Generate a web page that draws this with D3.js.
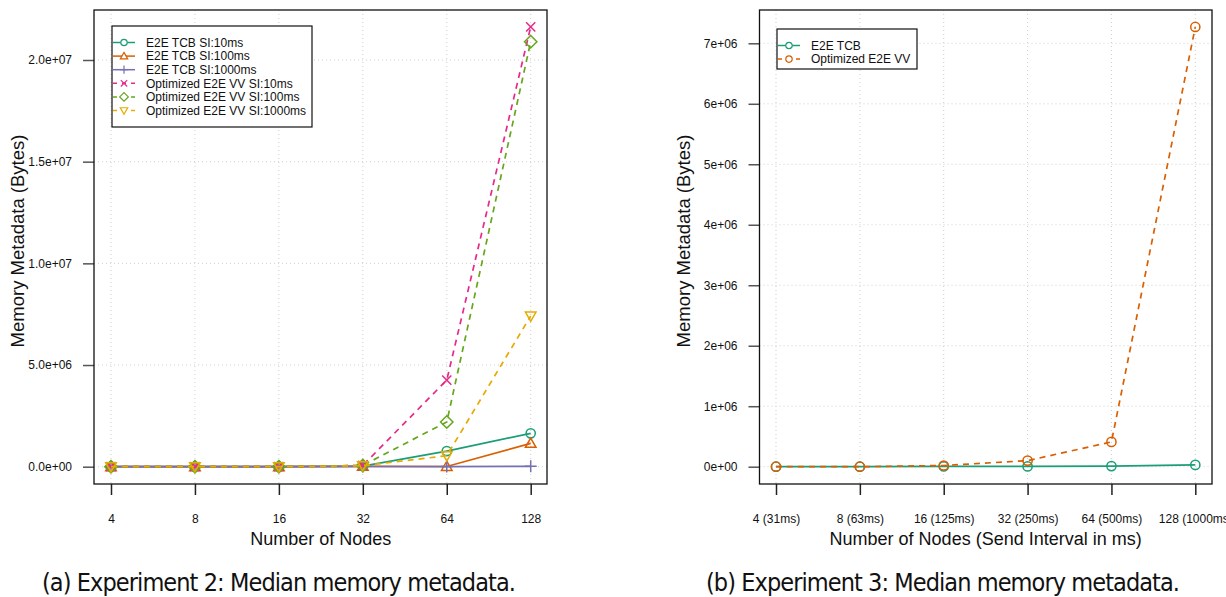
<!DOCTYPE html>
<html>
<head>
<meta charset="utf-8">
<script src="https://cdn.jsdelivr.net/npm/d3@7"></script>
<style>
  body { margin: 0; background: #fff; }
  svg { display: block; font-family: "Liberation Sans", Arial, Helvetica, sans-serif; }
</style>
</head>
<body>
<div id="chart"></div>
<script>
// ---- data ----
const nodes = [4, 8, 16, 32, 64, 128];
const nodeLabelsB = ["4 (31ms)", "8 (63ms)", "16 (125ms)", "32 (250ms)", "64 (500ms)", "128 (1000ms)"];

const tcb10   = [0, 0, 0, 30000, 770000, 1640000];
const tcb100  = [0, 0, 0, 20000, 10000, 1150000];
const tcb1000 = [0, 0, 0, 10000, 5000, 20000];
const vv10    = [0, 0, 0, 60000, 4260000, 21630000];
const vv100   = [0, 0, 0, 60000, 2200000, 20900000];
const vv1000  = [0, 0, 0, 50000, 540000, 7410000];

const tcbB = [0, 0, 5000, 5000, 10000, 30000];
const vvB  = [0, 0, 20000, 100000, 410000, 7270000];

const ticksA = [0, 5e6, 1e7, 1.5e7, 2e7];
const ticksB = [0, 1e6, 2e6, 3e6, 4e6, 5e6, 6e6, 7e6];

const seriesA = [
  {name: "E2E TCB SI:10ms", values: tcb10, color: "#1B9E77", shape: "circle", dash: null},
  {name: "E2E TCB SI:100ms", values: tcb100, color: "#D95F02", shape: "triangle", dash: null},
  {name: "E2E TCB SI:1000ms", values: tcb1000, color: "#7570B3", shape: "plus", dash: null},
  {name: "Optimized E2E VV SI:10ms", values: vv10, color: "#E7298A", shape: "cross", dash: "6,5"},
  {name: "Optimized E2E VV SI:100ms", values: vv100, color: "#66A61E", shape: "diamond", dash: "6,5"},
  {name: "Optimized E2E VV SI:1000ms", values: vv1000, color: "#E6AB02", shape: "down", dash: "6,5"}
];
const seriesB = [
  {name: "E2E TCB", values: tcbB, color: "#1B9E77", shape: "circle", dash: null},
  {name: "Optimized E2E VV", values: vvB, color: "#D95F02", shape: "circle", dash: "6,5"}
];

// R-like exponent format: 2.0e+07
function sci(digits) {
  return d => {
    const [m, e] = d.toExponential(digits).split("e");
    const n = Math.abs(+e);
    return m + "e" + (+e < 0 ? "-" : "+") + (n < 10 ? "0" + n : n);
  };
}

// marker paths, centred on 0,0
function marker(shape, r) {
  switch (shape) {
    case "circle": return `M${r},0A${r},${r} 0 1,1 ${-r},0A${r},${r} 0 1,1 ${r},0Z`;
    case "triangle": { const h = r * 1.15; return `M0,${-h}L${h},${h * 0.75}L${-h},${h * 0.75}Z`; }
    case "down": { const h = r * 1.15; return `M0,${h}L${h},${-h * 0.75}L${-h},${-h * 0.75}Z`; }
    case "plus": { const h = r * 1.3; return `M${-h},0L${h},0M0,${-h}L0,${h}`; }
    case "cross": { const h = r; return `M${-h},${-h}L${h},${h}M${-h},${h}L${h},${-h}`; }
    case "diamond": { const h = r * 1.35; return `M0,${-h}L${h},0L0,${h}L${-h},0Z`; }
  }
}

const W = 1226, H = 597;
const svg = d3.select("#chart").append("svg").attr("width", W).attr("height", H);
svg.append("rect").attr("width", W).attr("height", H).attr("fill", "#fff");

function panel(o) {
  const g = svg.append("g");
  const x = d3.scalePoint().domain(o.cats).range([o.xr0, o.xr1]);
  const y = d3.scaleLinear().domain(o.ydom).range([o.y0, o.y1]);

  // grid
  g.append("g").selectAll("line").data(o.cats).join("line")
    .attr("x1", d => x(d)).attr("x2", d => x(d))
    .attr("y1", o.top).attr("y2", o.bottom)
    .attr("stroke", "#cfcfcf").attr("stroke-width", 1).attr("stroke-dasharray", "1,3");
  g.append("g").selectAll("line").data(o.yticks).join("line")
    .attr("x1", o.left).attr("x2", o.right)
    .attr("y1", d => y(d)).attr("y2", d => y(d))
    .attr("stroke", "#cfcfcf").attr("stroke-width", 1).attr("stroke-dasharray", "1,3");

  // axes
  g.append("g")
    .attr("transform", `translate(${o.left},0)`)
    .call(d3.axisLeft(y).tickValues(o.yticks).tickFormat(o.yfmt).tickSize(11).tickPadding(11))
    .call(a => a.select(".domain").remove())
    .call(a => a.selectAll(".tick line").attr("stroke", "#555").attr("stroke-width", 1.5))
    .call(a => a.selectAll(".tick text").attr("font-size", 12).attr("font-family", null).attr("fill", "#111"));

  g.append("g")
    .attr("transform", `translate(0,${o.bottom})`)
    .call(d3.axisBottom(x).tickFormat(o.xfmt).tickSize(11).tickPadding(19))
    .call(a => a.select(".domain").remove())
    .call(a => a.selectAll(".tick line").attr("stroke", "#222").attr("stroke-width", 1.5))
    .call(a => a.selectAll(".tick text").attr("font-size", 12).attr("font-family", null).attr("fill", "#111"));

  // box
  g.append("rect")
    .attr("x", o.left).attr("y", o.top)
    .attr("width", o.right - o.left).attr("height", o.bottom - o.top)
    .attr("fill", "none").attr("stroke", "#111").attr("stroke-width", 1.3);

  // lines + markers
  const line = d3.line().x((d, i) => x(o.cats[i])).y(d => y(d));
  o.series.forEach(s => {
    g.append("path")
      .attr("d", line(s.values))
      .attr("fill", "none").attr("stroke", s.color).attr("stroke-width", 1.7)
      .attr("stroke-dasharray", s.dash);
    g.append("g").selectAll("path").data(s.values).join("path")
      .attr("transform", (d, i) => `translate(${x(o.cats[i])},${y(d)})`)
      .attr("d", marker(s.shape, 4.6))
      .attr("fill", "none").attr("stroke", s.color).attr("stroke-width", 1.5);
  });

  // axis titles
  g.append("text")
    .attr("x", (o.xr0 + o.xr1) / 2).attr("y", o.xlabY)
    .attr("text-anchor", "middle").attr("font-size", 18).attr("fill", "#111")
    .text(o.xlab);
  g.append("text")
    .attr("transform", `translate(${o.ylabX},${(o.top + o.bottom) / 2 - 6}) rotate(-90)`)
    .attr("text-anchor", "middle").attr("font-size", 18.5).attr("fill", "#111")
    .text("Memory Metadata (Bytes)");

  // legend
  const lg = g.append("g").attr("transform", `translate(${o.leg.x},${o.leg.y})`);
  lg.append("rect").attr("width", o.leg.w).attr("height", o.leg.h)
    .attr("fill", "#fff").attr("stroke", "#111").attr("stroke-width", 1.2);
  const rows = lg.selectAll("g").data(o.series).join("g")
    .attr("transform", (d, i) => `translate(0,${16.5 + i * 13.6})`);
  rows.append("line").attr("x1", 1).attr("x2", 23)
    .attr("stroke", d => d.color).attr("stroke-width", 1.5)
    .attr("stroke-dasharray", d => d.dash ? "4,5" : null);
  rows.append("path").attr("transform", "translate(12,0)")
    .attr("d", d => marker(d.shape, 3.2))
    .attr("fill", "#fff").attr("stroke", d => d.color).attr("stroke-width", 1.2);
  rows.append("text").attr("x", 34).attr("dy", "0.35em")
    .attr("font-size", 12).attr("fill", "#111").text(d => d.name);

  // caption
  svg.append("text")
    .attr("x", o.capX).attr("y", 591)
    .attr("font-family", "'Liberation Sans Narrow', 'Arial Narrow', 'DejaVu Sans Condensed', sans-serif")
    .attr("font-stretch", "condensed")
    .attr("font-size", 25).attr("fill", "#111")
    .attr("textLength", 474).attr("lengthAdjust", "spacing")
    .text(o.caption);
}

panel({
  cats: nodes, xfmt: d => d,
  left: 94, right: 547, top: 10, bottom: 484,
  xr0: 111, xr1: 530.7,
  ydom: [0, 2e7], y0: 466.7, y1: 60,
  yticks: ticksA, yfmt: sci(1),
  series: seriesA,
  xlab: "Number of Nodes", xlabY: 545, ylabX: 24,
  leg: {x: 112, y: 26, w: 200, h: 101},
  caption: "(a) Experiment 2: Median memory metadata.", capX: 42
});

panel({
  cats: nodes, xfmt: (d, i) => nodeLabelsB[i],
  left: 759.5, right: 1212, top: 10, bottom: 484,
  xr0: 776, xr1: 1195.3,
  ydom: [0, 7e6], y0: 466.7, y1: 43.3,
  yticks: ticksB, yfmt: sci(0),
  series: seriesB,
  xlab: "Number of Nodes (Send Interval in ms)", xlabY: 545, ylabX: 690,
  leg: {x: 777, y: 29, w: 140, h: 40},
  caption: "(b) Experiment 3: Median memory metadata.", capX: 706
});
</script>
</body>
</html>
